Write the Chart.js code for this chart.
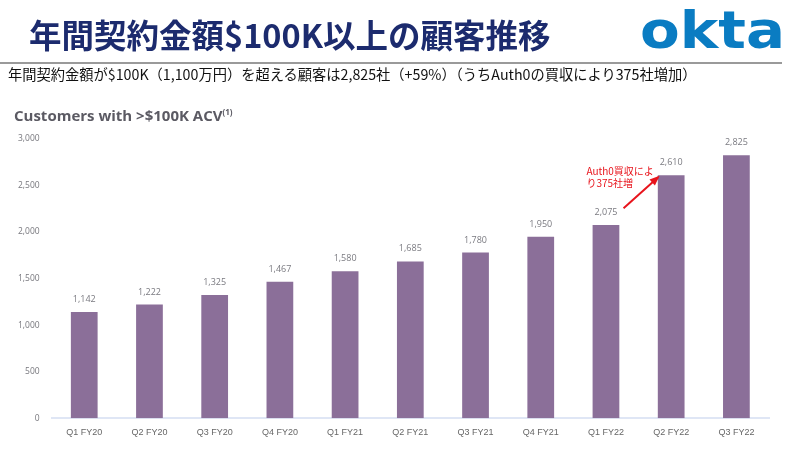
<!DOCTYPE html>
<html><head><meta charset="utf-8">
<script src="https://cdn.jsdelivr.net/npm/chart.js@4/dist/chart.umd.min.js"></script>
<style>
html,body{margin:0;padding:0;background:#fff;}
#wrap{position:relative;width:800px;height:450px;overflow:hidden;}
#c{position:absolute;left:0;top:0;}
.t{position:absolute;white-space:nowrap;}
#title{left:29px;top:10px;font-family:"Noto Sans CJK JP";font-weight:700;font-size:32.5px;color:#1c2b6e;}
#logo{left:640px;top:5px;line-height:51px;font-family:"DejaVu Sans";font-weight:700;font-size:51px;color:#0a7cc2;transform:scaleX(1.135);transform-origin:left top;}
#rule{position:absolute;left:0;top:62px;width:782px;height:2px;background:#9a9a9a;}
#sub{left:8px;top:63px;font-family:"Noto Sans CJK JP";font-size:14.25px;color:#111;}
#ctitle{left:14px;top:105px;font-family:"Open Sans";font-weight:700;font-size:15px;color:#5b5a63;}
#ctitle sup{font-size:8px;vertical-align:6px;}
</style></head>
<body><div id="wrap">
<canvas id="c" width="800" height="450"></canvas>
<div class="t" id="title">年間契約金額$100K以上の顧客推移</div>
<div class="t" id="logo">okta</div>
<div id="rule"></div>
<div class="t" id="sub">年間契約金額が$100K（1,100万円）を超える顧客は2,825社（+59%）（うちAuth0の買収により375社増加）</div>
<div class="t" id="ctitle">Customers with &gt;$100K ACV<sup>(1)</sup></div>
</div>
<script>
const categories = ["Q1 FY20","Q2 FY20","Q3 FY20","Q4 FY20","Q1 FY21","Q2 FY21","Q3 FY21","Q4 FY21","Q1 FY22","Q2 FY22","Q3 FY22"];
const customers = [1142,1222,1325,1467,1580,1685,1780,1950,2075,2610,2825];
const yTicks = [0,500,1000,1500,2000,2500,3000];
const annotationLines = ["Auth0買収によ","り375社増"];

const labelPlugin = {
  id:'labels',
  afterDatasetsDraw(chart){
    const ctx = chart.ctx;
    const meta = chart.getDatasetMeta(0);
    ctx.save();
    ctx.font = '9px "Open Sans"';
    ctx.fillStyle = '#7a7a80';
    ctx.textAlign = 'center';
    ctx.textBaseline = 'bottom';
    meta.data.forEach((el,i)=>{
      ctx.fillText(customers[i].toLocaleString('en-US'), el.x, el.y - 8);
    });
    // annotation
    const xs = chart.scales.x, ys = chart.scales.y;
    const x0 = xs.getPixelForValue(8.27), y0 = ys.getPixelForValue(2255);
    const x1 = xs.getPixelForValue(8.8), y1 = ys.getPixelForValue(2590);
    ctx.strokeStyle = '#e8141c'; ctx.fillStyle = '#e8141c'; ctx.lineWidth = 2;
    ctx.beginPath(); ctx.moveTo(x0,y0); ctx.lineTo(x1,y1); ctx.stroke();
    const ang = Math.atan2(y1-y0,x1-x0);
    ctx.beginPath();
    ctx.moveTo(x1+2*Math.cos(ang),y1+2*Math.sin(ang));
    ctx.lineTo(x1-8*Math.cos(ang)+4*Math.sin(ang), y1-8*Math.sin(ang)-4*Math.cos(ang));
    ctx.lineTo(x1-8*Math.cos(ang)-4*Math.sin(ang), y1-8*Math.sin(ang)+4*Math.cos(ang));
    ctx.closePath(); ctx.fill();
    ctx.font = '10px "Noto Sans CJK JP"';
    ctx.textAlign = 'left'; ctx.textBaseline = 'middle';
    const tx = xs.getPixelForValue(7.7), ty = ys.getPixelForValue(2650);
    annotationLines.forEach((s,k)=>ctx.fillText(s, tx, ty + k*12));
    ctx.restore();
  }
};

new Chart(document.getElementById('c'), {
  type:'bar',
  data:{labels:categories,datasets:[{data:customers,backgroundColor:'#8b6f99',barPercentage:0.41,categoryPercentage:1}]},
  options:{
    responsive:false, animation:false,
    layout:{padding:{top:139,left:6,right:31,bottom:3}},
    plugins:{legend:{display:false},tooltip:{enabled:false}},
    scales:{
      x:{grid:{display:false,drawTicks:false},border:{color:'#dfe6f5',width:2},
         ticks:{color:'#666',font:{family:'"Liberation Sans"',size:9},padding:9}},
      y:{min:0,max:3000,afterBuildTicks(a){a.ticks=yTicks.map(v=>({value:v}));},
         grid:{display:false,drawTicks:false},border:{display:false},
         ticks:{color:'#77777d',font:{family:'"Open Sans"',size:8.5},padding:12,
           callback:v=>v.toLocaleString('en-US')}}
    }
  },
  plugins:[labelPlugin]
});
</script>
</body></html>
